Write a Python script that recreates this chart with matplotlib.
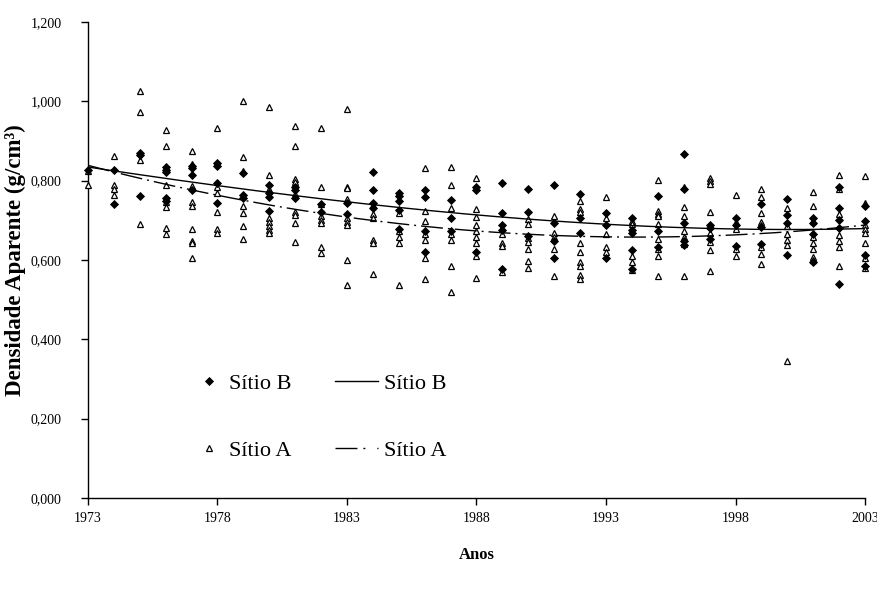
import numpy as np
import matplotlib
matplotlib.use("Agg")
import matplotlib.pyplot as plt
from matplotlib.ticker import FuncFormatter, FixedLocator, MultipleLocator
from matplotlib.lines import Line2D

plt.rcParams["font.family"] = ["Liberation Serif", "DejaVu Serif"]

years = list(range(1973, 2004))
year_ticks = years[::5]

# Bulk density (g/cm3) per year, site B (diamonds)
sitio_b = [
    [0.826],
    [0.828, 0.740],
    [0.869, 0.864, 0.762],
    [0.834, 0.828, 0.822, 0.756, 0.750],
    [0.837, 0.833, 0.815, 0.777],
    [0.845, 0.837, 0.794, 0.744],
    [0.819, 0.764, 0.756],
    [0.790, 0.768, 0.760, 0.724],
    [0.785, 0.776, 0.756],
    [0.740, 0.722],
    [0.743, 0.716],
    [0.822, 0.776, 0.744, 0.732],
    [0.768, 0.762, 0.750, 0.726, 0.677],
    [0.776, 0.758, 0.673, 0.620],
    [0.751, 0.707, 0.673],
    [0.784, 0.777, 0.620],
    [0.793, 0.719, 0.689, 0.675, 0.578],
    [0.778, 0.722, 0.660],
    [0.789, 0.694, 0.648, 0.604],
    [0.767, 0.705, 0.669],
    [0.719, 0.689, 0.606],
    [0.706, 0.675, 0.669, 0.624, 0.578],
    [0.762, 0.673, 0.633],
    [0.867, 0.780, 0.693, 0.649, 0.637],
    [0.689, 0.681, 0.654],
    [0.707, 0.689, 0.635],
    [0.740, 0.683, 0.640],
    [0.754, 0.713, 0.693, 0.613],
    [0.705, 0.693, 0.665, 0.594],
    [0.784, 0.731, 0.702, 0.681, 0.540],
    [0.735, 0.699, 0.612, 0.586],
]

# Bulk density (g/cm3) per year, site A (triangles)
sitio_a = [
    [0.825, 0.790],
    [0.863, 0.789, 0.779, 0.765],
    [1.025, 0.974, 0.853, 0.690],
    [0.928, 0.888, 0.789, 0.747, 0.734, 0.681, 0.665],
    [0.876, 0.842, 0.787, 0.745, 0.736, 0.679, 0.649, 0.644, 0.606],
    [0.934, 0.785, 0.768, 0.722, 0.679, 0.667],
    [1.002, 0.860, 0.825, 0.735, 0.718, 0.686, 0.652],
    [0.985, 0.814, 0.780, 0.706, 0.695, 0.685, 0.675, 0.667],
    [0.939, 0.888, 0.804, 0.796, 0.766, 0.720, 0.714, 0.693, 0.645],
    [0.933, 0.784, 0.740, 0.711, 0.701, 0.693, 0.632, 0.617],
    [0.980, 0.785, 0.782, 0.754, 0.706, 0.697, 0.689, 0.599, 0.536],
    [0.738, 0.716, 0.705, 0.651, 0.643, 0.564],
    [0.718, 0.673, 0.659, 0.643, 0.536],
    [0.831, 0.723, 0.698, 0.665, 0.651, 0.606, 0.551],
    [0.834, 0.789, 0.732, 0.665, 0.651, 0.584, 0.519],
    [0.806, 0.729, 0.709, 0.689, 0.673, 0.659, 0.643, 0.609, 0.554],
    [0.681, 0.665, 0.644, 0.636, 0.570],
    [0.704, 0.691, 0.655, 0.645, 0.627, 0.598, 0.580],
    [0.712, 0.667, 0.659, 0.627, 0.559],
    [0.748, 0.728, 0.722, 0.644, 0.621, 0.594, 0.584, 0.562, 0.553],
    [0.758, 0.706, 0.665, 0.632, 0.621],
    [0.698, 0.691, 0.611, 0.596, 0.574],
    [0.801, 0.723, 0.716, 0.711, 0.691, 0.652, 0.627, 0.609, 0.559],
    [0.785, 0.733, 0.711, 0.673, 0.659, 0.641, 0.559],
    [0.806, 0.800, 0.792, 0.722, 0.669, 0.645, 0.624, 0.572],
    [0.764, 0.697, 0.677, 0.629, 0.609],
    [0.778, 0.760, 0.718, 0.697, 0.689, 0.633, 0.616, 0.590],
    [0.732, 0.685, 0.665, 0.651, 0.637, 0.345],
    [0.772, 0.735, 0.698, 0.659, 0.644, 0.629, 0.608, 0.600],
    [0.814, 0.778, 0.717, 0.662, 0.648, 0.633, 0.584],
    [0.812, 0.743, 0.689, 0.679, 0.669, 0.644, 0.606, 0.580],
]

labels = ["Sítio B", "Sítio A"]


def flatten(series):
    xs, ys = [], []
    for yr, vals in zip(years, series):
        xs.extend([yr] * len(vals))
        ys.extend(vals)
    return np.array(xs, float), np.array(ys, float)


xb, yb = flatten(sitio_b)
xa, ya = flatten(sitio_a)

fig = plt.figure(figsize=(8.78, 5.92), dpi=100)
ax = fig.add_axes([0.1002, 0.1588, 0.8850, 0.8040])

tri_style = dict(linestyle="none", marker="^", markersize=5.0,
                 markerfacecolor="white", markeredgecolor="black",
                 markeredgewidth=0.9)
dia_style = dict(linestyle="none", marker="D", markersize=3.7,
                 markerfacecolor="black", markeredgecolor="black",
                 markeredgewidth=0.6)

ax.plot(xa, ya, zorder=3, clip_on=False, **tri_style)
ax.plot(xb, yb, zorder=4, clip_on=False, **dia_style)

# Polynomial trend lines fitted to each site
dash_dot = (15.8, 3.6, 1.4, 3.6)
xs = np.linspace(1973, 2003, 300)
cb = np.polyfit(xb - 1973, yb, 3)
ca = np.polyfit(xa - 1973, ya, 3)
ax.plot(xs, np.polyval(cb, xs - 1973), color="black", lw=1.0, zorder=5)
ln_a, = ax.plot(xs, np.polyval(ca, xs - 1973), color="black", lw=1.0, zorder=5)
ln_a.set_dashes(dash_dot)

ax.set_xlim(1973, 2003)
ax.set_ylim(0, 1.2)
ax.xaxis.set_major_locator(FixedLocator(year_ticks))
ax.yaxis.set_major_locator(MultipleLocator(0.2))
ax.yaxis.set_major_formatter(FuncFormatter(lambda v, p: f"{v:.3f}".replace(".", ",")))
ax.spines["top"].set_visible(False)
ax.spines["right"].set_visible(False)
for s in ("left", "bottom"):
    ax.spines[s].set_linewidth(1.0)
ax.tick_params(axis="both", direction="out", length=5, width=1.0, labelsize=10)
ax.tick_params(axis="y", pad=14)
ax.tick_params(axis="x", pad=5)

ax.set_xlabel("Anos", fontsize=12, fontweight="bold", labelpad=16)
ax.set_ylabel("Densidade Aparente (g/cm³)", fontsize=16.5, fontweight="bold",
              labelpad=3)

# Two legend blocks: markers on the left, trend lines on the right
leg_kw = dict(frameon=False, fontsize=16, loc="center left", borderpad=0,
              labelspacing=2.1)
leg1 = ax.legend([Line2D([], [], **dia_style), Line2D([], [], **tri_style)],
                 labels, handlelength=1.0, handletextpad=0.4,
                 bbox_to_anchor=(0.1276, 0.170), **leg_kw)
ax.add_artist(leg1)
ax.legend([Line2D([], [], color="black", lw=1.0),
           Line2D([], [], color="black", lw=1.0, dashes=(15.8, 4.3, 1.4, 8.6))],
          labels, handlelength=1.94, handletextpad=0.25,
          bbox_to_anchor=(0.304, 0.170), **leg_kw)

fig.savefig("out.png", dpi=100)
